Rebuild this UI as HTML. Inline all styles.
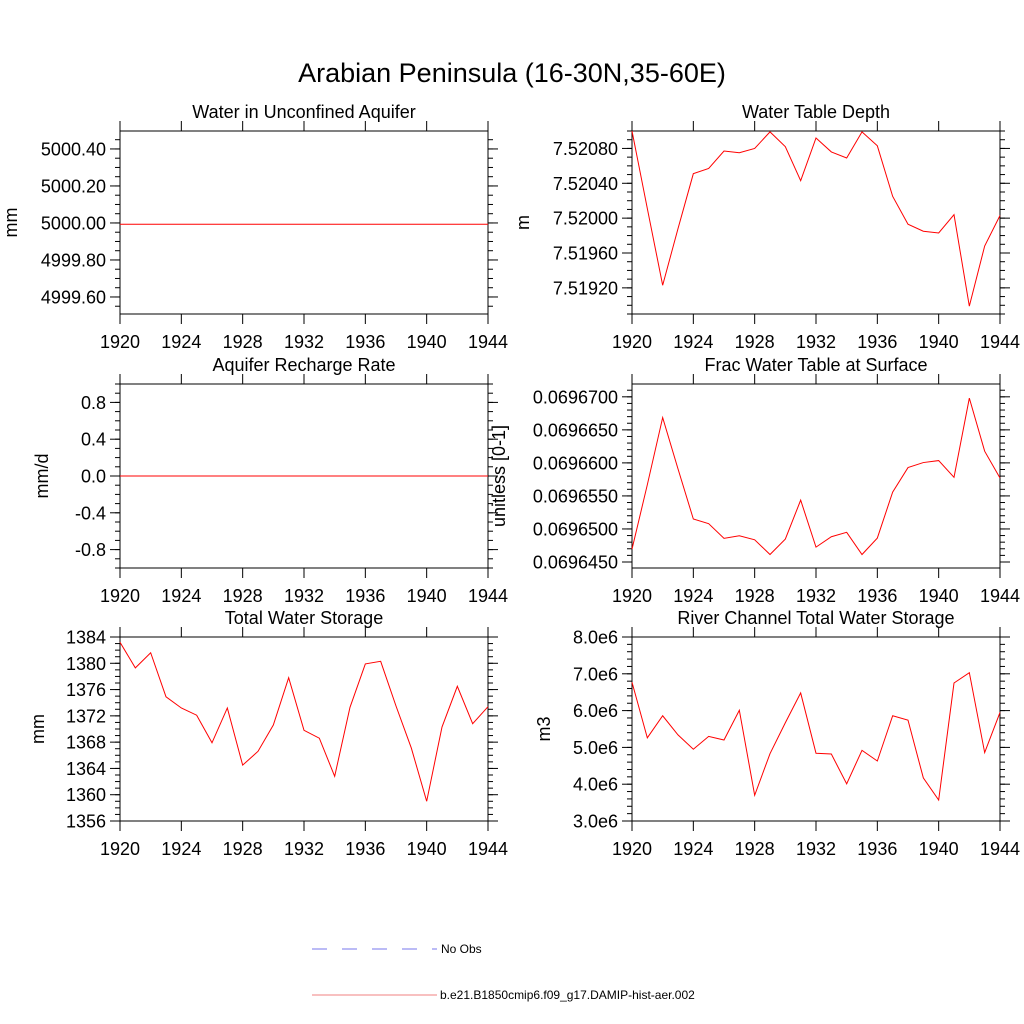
<!DOCTYPE html>
<html><head><meta charset="utf-8">
<style>
html,body{margin:0;padding:0;background:#fff;}
svg{display:block;font-family:"Liberation Sans",sans-serif;}
</style></head>
<body>
<svg id="fig" width="1024" height="1024" viewBox="0 0 1024 1024" xmlns="http://www.w3.org/2000/svg">
<rect width="1024" height="1024" fill="#fff"/>
<text x="512" y="82" font-size="27" text-anchor="middle">Arabian Peninsula (16-30N,35-60E)</text>
<g>
<line x1="312" y1="949" x2="437" y2="949" stroke="#7777ee" stroke-width="1" stroke-dasharray="15,15"/>
<text x="441" y="953" font-size="12">No Obs</text>
<line x1="312" y1="995" x2="437" y2="995" stroke="#f08080" stroke-width="1"/>
<text x="440" y="999" font-size="12">b.e21.B1850cmip6.f09_g17.DAMIP-hist-aer.002</text>
</g>
</svg>
<script>
const years = [1920,1921,1922,1923,1924,1925,1926,1927,1928,1929,1930,1931,1932,1933,1934,1935,1936,1937,1938,1939,1940,1941,1942,1943,1944];
const xTickLabels = ["1920","1924","1928","1932","1936","1940","1944"];
const aquiferValues = years.map(function(){return 4999.993;});
const rechargeValues = years.map(function(){return 0;});
const wtdValues = [7.52100,7.52011,7.51923,7.51988,7.52051,7.52057,7.52077,7.52075,7.52080,7.52099,7.52082,7.52043,7.52092,7.52076,7.52069,7.52099,7.52083,7.52025,7.51993,7.51985,7.51983,7.52004,7.51899,7.51968,7.52003];
const fracValues = [0.06964694,0.06965670,0.06966686,0.06965909,0.06965151,0.06965080,0.06964857,0.06964897,0.06964836,0.06964613,0.06964847,0.06965436,0.06964725,0.06964882,0.06964949,0.06964613,0.06964862,0.06965558,0.06965929,0.06966005,0.06966035,0.06965781,0.06966980,0.06966177,0.06965772];
const twsValues = [1383.2,1379.3,1381.6,1374.9,1373.2,1372.1,1367.9,1373.2,1364.5,1366.6,1370.6,1377.8,1369.8,1368.6,1362.8,1373.3,1379.9,1380.3,1373.5,1367.1,1359.0,1370.3,1376.5,1370.8,1373.4];
const riverValues = [6.77e6,5.26e6,5.86e6,5.34e6,4.95e6,5.30e6,5.20e6,6.01e6,3.70e6,4.83e6,5.67e6,6.48e6,4.84e6,4.82e6,4.01e6,4.92e6,4.63e6,5.86e6,5.74e6,4.17e6,3.57e6,6.75e6,7.03e6,4.86e6,5.95e6];
const aquiferTicks = ["5000.40","5000.20","5000.00","4999.80","4999.60"];
const rechargeTicks = ["0.8","0.4","0.0","-0.4","-0.8"];
const wtdTicks = ["7.52080","7.52040","7.52000","7.51960","7.51920"];
const fracTicks = ["0.0696700","0.0696650","0.0696600","0.0696550","0.0696500","0.0696450"];
const twsTicks = ["1384","1380","1376","1372","1368","1364","1360","1356"];
const riverTicks = ["8.0e6","7.0e6","6.0e6","5.0e6","4.0e6","3.0e6"];

const NS = "http://www.w3.org/2000/svg";
const svg = document.getElementById("fig");
function mk(tag, attrs, parent){
  const e = document.createElementNS(NS, tag);
  for (const k in attrs) e.setAttribute(k, attrs[k]);
  parent.appendChild(e);
  return e;
}
const panels = [
  {key:"aquifer",title:"Water in Unconfined Aquifer",ylab:"mm",x0:120,y0:131,y1:314,ymin:4999.508,ymax:5000.497,ticks:aquiferTicks,minor:0.05,vals:aquiferValues},
  {key:"wtd",title:"Water Table Depth",ylab:"m",x0:632,y0:131,y1:314,ymin:7.51890,ymax:7.52100,ticks:wtdTicks,minor:0.0001,vals:wtdValues},
  {key:"recharge",title:"Aquifer Recharge Rate",ylab:"mm/d",x0:120,y0:384,y1:568,ymin:-1.0,ymax:1.0,ticks:rechargeTicks,minor:0.1,vals:rechargeValues},
  {key:"frac",title:"Frac Water Table at Surface",ylab:"unitless [0-1]",x0:632,y0:384,y1:568,ymin:0.06964409,ymax:0.06967194,ticks:fracTicks,minor:0.000001,vals:fracValues},
  {key:"tws",title:"Total Water Storage",ylab:"mm",x0:120,y0:637,y1:821,ymin:1356,ymax:1384,ticks:twsTicks,minor:1,vals:twsValues},
  {key:"river",title:"River Channel Total Water Storage",ylab:"m3",x0:632,y0:637,y1:821,ymin:3.0e6,ymax:8.0e6,ticks:riverTicks,minor:0.2e6,vals:riverValues}
];
const W = 368;
panels.forEach(function(p){
  const g = mk("g",{},svg);
  
  
  const x1 = p.x0 + W;
  const xs = function(yr){ return p.x0 + (yr - 1920) / 24 * W; };
  const ys = function(v){ return p.y1 - (v - p.ymin) / (p.ymax - p.ymin) * (p.y1 - p.y0); };
  const t = mk("text",{x:(p.x0+x1)/2,y:p.y0-13,"font-size":18,"text-anchor":"middle"},g);
  t.textContent = p.title;
  
  
  // y ticks
  const tg = mk("g",{stroke:"#000","stroke-width":1},g);
  
  
  const nMin = Math.round((p.ymax - p.ymin) / p.minor) + 2;
  const start = Math.ceil(p.ymin / p.minor - 1e-6);
  for (let i = 0; i < nMin; i++){
    const v = (start + i) * p.minor;
    if (v > p.ymax + 1e-12) break;
    const y = ys(v);
    mk("line",{x1:p.x0-5,y1:y,x2:p.x0,y2:y},tg);
    mk("line",{x1:x1,y1:y,x2:x1+5,y2:y},tg);
  }
  p.ticks.forEach(function(lab){
    const v = parseFloat(lab);
    const y = ys(v);
    mk("line",{x1:p.x0-10,y1:y,x2:p.x0,y2:y},tg);
    mk("line",{x1:x1,y1:y,x2:x1+10,y2:y},tg);
    const tl = mk("text",{x:p.x0-14,y:y+6.5,"font-size":18,"text-anchor":"end",stroke:"none"},g);
    tl.textContent = lab;
    
    
  });
  xTickLabels.forEach(function(lab){
    const x = xs(parseFloat(lab));
    mk("line",{x1:x,y1:p.y0-10,x2:x,y2:p.y0},tg);
    mk("line",{x1:x,y1:p.y1,x2:x,y2:p.y1+10},tg);
    const tl = mk("text",{x:x,y:p.y1+34,"font-size":18,"text-anchor":"middle"},g);
    tl.textContent = lab;
    
    
  });
  const fr = mk("rect",{x:p.x0,y:p.y0,width:W,height:p.y1-p.y0,fill:"none",stroke:"#000","stroke-width":1},g);
  
  
  const yl = mk("text",{x:0,y:0,"font-size":18,"text-anchor":"middle",transform:"translate("+(p.key==="frac"?505:(p.x0-102))+","+((p.y0+p.y1)/2)+") rotate(-90)"},g);
  if (p.key==="aquifer") yl.setAttribute("transform","translate(17,"+((p.y0+p.y1)/2)+") rotate(-90)");
  if (p.key==="wtd") yl.setAttribute("transform","translate(529,"+((p.y0+p.y1)/2)+") rotate(-90)");
  if (p.key==="recharge") yl.setAttribute("transform","translate(48,"+((p.y0+p.y1)/2)+") rotate(-90)");
  if (p.key==="tws") yl.setAttribute("transform","translate(44,"+((p.y0+p.y1)/2)+") rotate(-90)");
  if (p.key==="river") yl.setAttribute("transform","translate(550,"+((p.y0+p.y1)/2)+") rotate(-90)");
  yl.textContent = p.ylab;
  
  
  const pts = p.vals.map(function(v,i){ return xs(years[i]).toFixed(2)+","+ys(v).toFixed(2); }).join(" ");
  const pl = mk("polyline",{points:pts,fill:"none",stroke:"#ff0000","stroke-width":1},g);
  
  
});
</script>
</body></html>
